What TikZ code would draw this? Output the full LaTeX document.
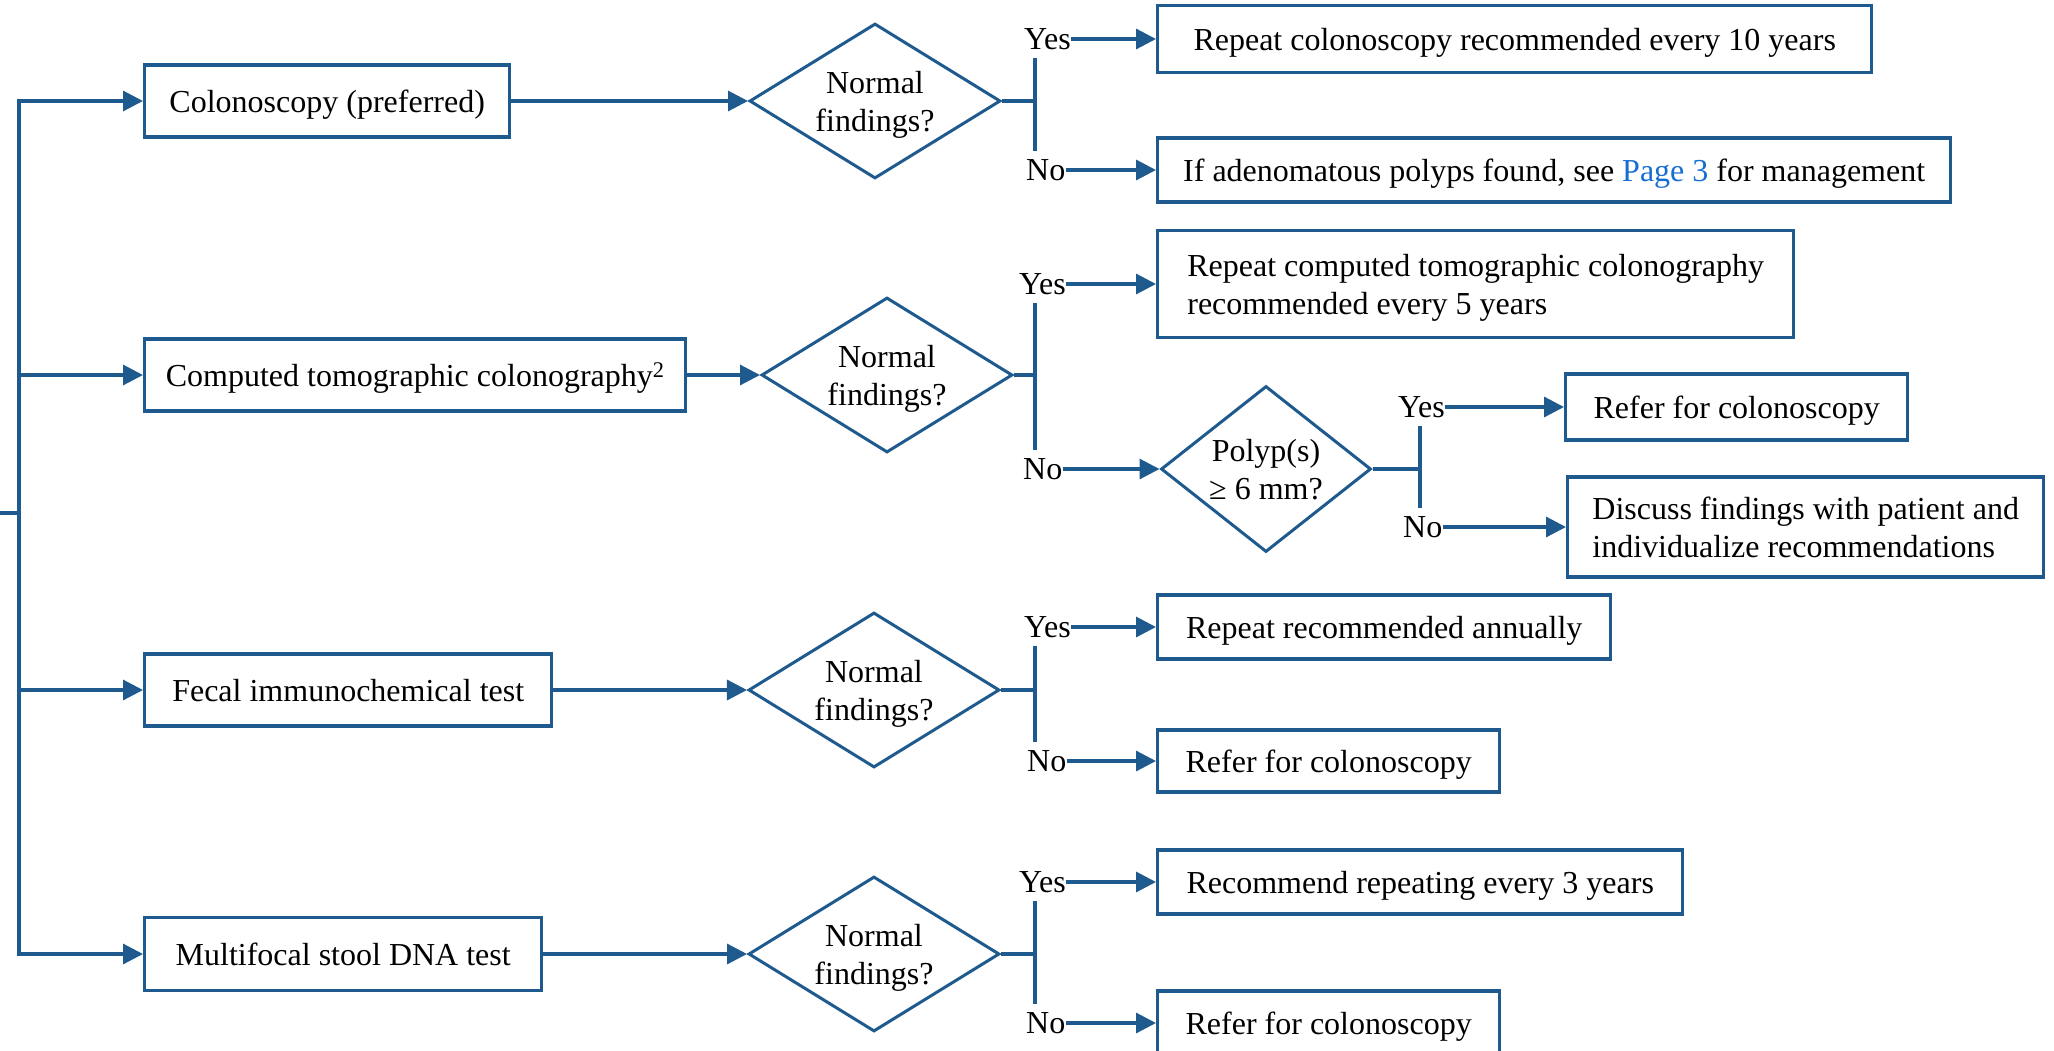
\documentclass[tikz,border=0pt]{standalone}
\usepackage{fontspec}
\setmainfont{Liberation Serif}
\usetikzlibrary{arrows.meta,shapes.geometric}
\definecolor{flowblue}{RGB}{30,90,142}
\definecolor{pagelink}{RGB}{22,110,210}
\tikzset{
	flow/.style={draw=flowblue, line width=3.2pt},
	flowarrow/.style={flow, -{Triangle[length=20pt,width=20pt]}},
	testbox/.style 2 args={draw=flowblue, line width=3.4pt, anchor=west, align=left, inner sep=0pt, text depth=0pt, minimum width=#1pt, minimum height=#2pt},
	decide/.style={diamond, draw=flowblue, line width=3pt, aspect=1.6, inner sep=0pt, text depth=0pt, minimum width=251pt, minimum height=155pt, align=center},
	yn/.style={inner xsep=0pt, inner ysep=8pt, anchor=west}
}

\begin{document}
\begin{tikzpicture}[x=1pt, y=-1pt, font=\fontsize{32}{38}\selectfont]
			%%%%% START %%%%%
			\useasboundingbox (0,0) rectangle (2054,1050);
			
			\coordinate (entry) at (0,513);
			\coordinate (trunk) at (19,513);
			
			\node[testbox={365}{72}] (colo) at (143,101) {Colonoscopy (preferred)};
			\node[testbox={541}{72}] (ctc) at (143,375) {Computed tomographic colonography\textsuperscript{2}};
			\node[testbox={407}{72}] (fit) at (143,690) {Fecal immunochemical test};
			\node[testbox={397}{73}] (sdna) at (143,954) {Multifocal stool DNA test};
			
			\draw[flow] (entry) -- (trunk);
			\draw[flow, line cap=rect] (trunk |- colo) -- (trunk |- sdna);
			\draw[flowarrow] (trunk |- colo) -- (colo);
			\draw[flowarrow] (trunk |- ctc) -- (ctc);
			\draw[flowarrow] (trunk |- fit) -- (fit);
			\draw[flowarrow] (trunk |- sdna) -- (sdna);
			
			\node[decide] (coloq) at (875,101) {Normal\\findings?};
			\node[decide] (ctcq) at (887,375) {Normal\\findings?};
			\node[decide] (fitq) at (874,690) {Normal\\findings?};
			\node[decide] (sdnaq) at (874,954) {Normal\\findings?};
			\node[decide, aspect=1.25, minimum width=210pt, minimum height=166pt] (polypq) at (1266,469) {Polyp(s)\\≥ 6 mm?};
			
			\draw[flowarrow] (colo) -- (coloq);
			\draw[flowarrow] (ctc) -- (ctcq);
			\draw[flowarrow] (fit) -- (fitq);
			\draw[flowarrow] (sdna) -- (sdnaq);
			
			\coordinate (colobar) at (1035,101);
			\coordinate (ctcbar) at (1035,375);
			\coordinate (fitbar) at (1035,690);
			\coordinate (sdnabar) at (1035,954);
			\coordinate (polypbar) at (1420,469);
			
			\node[yn] (coloyes) at (1024,39) {Yes};
			\node[yn] (colono) at (1026,170) {No};
			\node[yn] (ctcyes) at (1019,284) {Yes};
			\node[yn] (ctcno) at (1023,469) {No};
			\node[yn] (polypyes) at (1398,407) {Yes};
			\node[yn] (polypno) at (1403,527) {No};
			\node[yn] (fityes) at (1024,627) {Yes};
			\node[yn] (fitno) at (1027,761) {No};
			\node[yn] (sdnayes) at (1019,882) {Yes};
			\node[yn] (sdnano) at (1026,1023) {No};
			
			\draw[flow] (coloq.east) -- (colobar);
			\draw[flow] (colobar |- coloyes.south) -- (colobar |- colono.north);
			\draw[flow] (ctcq.east) -- (ctcbar);
			\draw[flow] (ctcbar |- ctcyes.south) -- (ctcbar |- ctcno.north);
			\draw[flow] (polypq.east) -- (polypbar);
			\draw[flow] (polypbar |- polypyes.south) -- (polypbar |- polypno.north);
			\draw[flow] (fitq.east) -- (fitbar);
			\draw[flow] (fitbar |- fityes.south) -- (fitbar |- fitno.north);
			\draw[flow] (sdnaq.east) -- (sdnabar);
			\draw[flow] (sdnabar |- sdnayes.south) -- (sdnabar |- sdnano.north);
			
			\node[testbox={714}{67}] (colo10y) at (1156,39) {Repeat colonoscopy recommended every 10 years};
			\node[testbox={793}{64}] (colopage) at (1156,170) {If adenomatous polyps found, see \textcolor{pagelink}{Page 3} for management};
			\node[testbox={636}{107}] (ctc5y) at (1156,284) {Repeat computed tomographic colonography\\recommended every 5 years};
			\node[testbox={342}{66}] (polyprefer) at (1564,407) {Refer for colonoscopy};
			\node[testbox={476}{100}] (polypdiscuss) at (1566,527) {Discuss findings with patient and\\individualize recommendations};
			\node[testbox={453}{64}] (fityear) at (1156,627) {Repeat recommended annually};
			\node[testbox={342}{62}] (fitrefer) at (1156,761) {Refer for colonoscopy};
			\node[testbox={525}{64}] (sdna3y) at (1156,882) {Recommend repeating every 3 years};
			\node[testbox={342}{64}] (sdnarefer) at (1156,1023) {Refer for colonoscopy};
			
			\draw[flowarrow] (coloyes.east) -- (coloyes.east -| colo10y.west);
			\draw[flowarrow] (colono.east) -- (colono.east -| colopage.west);
			\draw[flowarrow] (ctcyes.east) -- (ctcyes.east -| ctc5y.west);
			\draw[flowarrow] (ctcno.east) -- (polypq);
			\draw[flowarrow] (polypyes.east) -- (polypyes.east -| polyprefer.west);
			\draw[flowarrow] (polypno.east) -- (polypno.east -| polypdiscuss.west);
			\draw[flowarrow] (fityes.east) -- (fityes.east -| fityear.west);
			\draw[flowarrow] (fitno.east) -- (fitno.east -| fitrefer.west);
			\draw[flowarrow] (sdnayes.east) -- (sdnayes.east -| sdna3y.west);
			\draw[flowarrow] (sdnano.east) -- (sdnano.east -| sdnarefer.west);
			
			%%%%% END %%%%%
\end{tikzpicture}
\end{document}
